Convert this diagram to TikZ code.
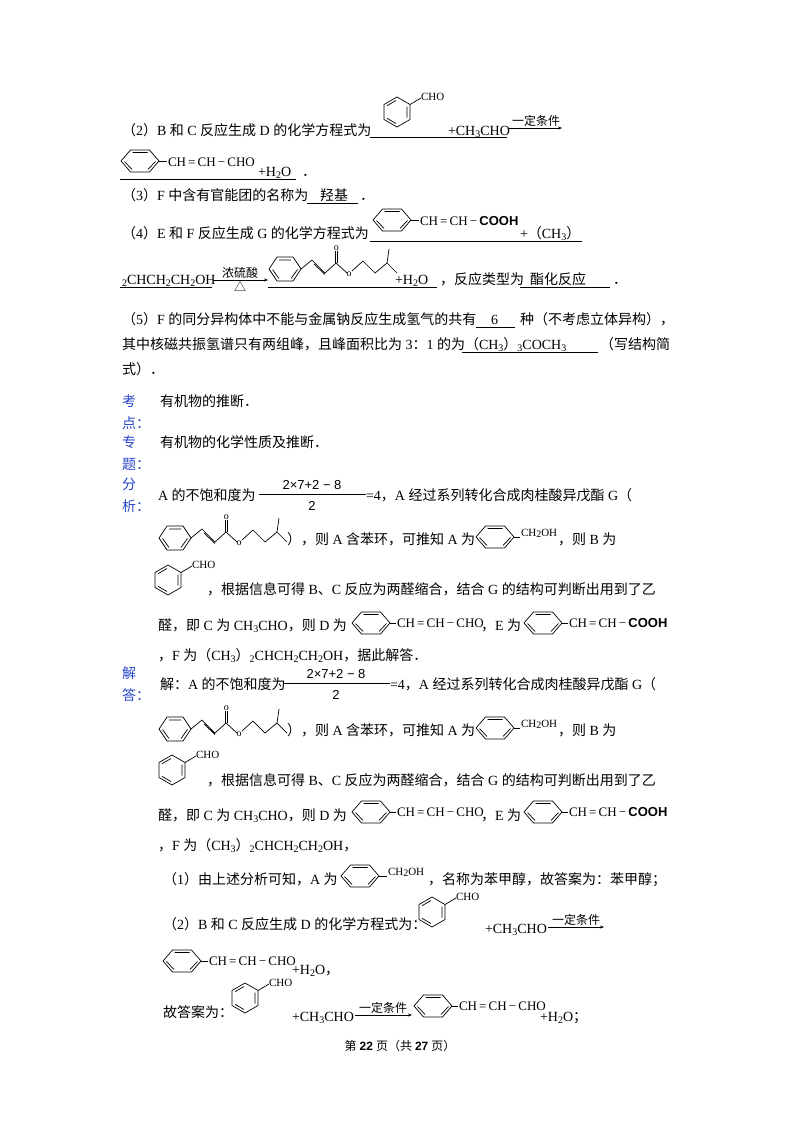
\documentclass[tikz,border=0pt]{standalone}
\usetikzlibrary{arrows.meta}
\usepackage{fontspec}
\setmainfont{Liberation Serif}
\newfontfamily\cjk{Noto Sans CJK SC}
\newfontfamily\sansf{Liberation Sans}
\XeTeXinterchartokenstate=1
\newXeTeXintercharclass\cjkcls
\newcount\cc
\cc="4E00 \loop\ifnum\cc<"A000 \XeTeXcharclass\cc=\cjkcls \advance\cc 1 \repeat
\cc="3000 \loop\ifnum\cc<"3040 \XeTeXcharclass\cc=\cjkcls \advance\cc 1 \repeat
\cc="FF00 \loop\ifnum\cc<"FFF0 \XeTeXcharclass\cc=\cjkcls \advance\cc 1 \repeat
\XeTeXcharclass"25B3=\cjkcls
\XeTeXinterchartoks 0 \cjkcls = {\cjk}
\XeTeXinterchartoks 4095 \cjkcls = {\cjk}
\XeTeXinterchartoks \cjkcls 0 = {\rmfamily}
\XeTeXinterchartoks \cjkcls 4095 = {\rmfamily}
\newcommand\sub[1]{\raisebox{-0.35ex}{\fontsize{10}{10}\selectfont #1}}
\newcommand\chain[1]{CH\,=\,CH\,\textminus\,#1}
\definecolor{kd}{RGB}{40,70,200}
\newcommand\hring[2]{\begin{scope}[shift={(#1,#2)}]
\draw (-19,0)--(-9.5,-11)--(9.5,-11)--(19,0)--(9.5,11)--(-9.5,11)--cycle;
\draw (-7.5,-8.5)--(7.5,-8.5) (-15.5,0.5)--(-8,8.5) (15.5,0.5)--(8,8.5);
\end{scope}}
\newcommand\vring[2]{\begin{scope}[shift={(#1,#2)}]
\draw (0,-15)--(13,-7.5)--(13,7.5)--(0,15)--(-13,7.5)--(-13,-7.5)--cycle;
\draw (10,-5.5)--(10,5.5) (-1,-11.5)--(-10,-6.3) (-1,11.5)--(-10,6.3);
\draw (13,-7.5)--(24,-14);
\node[tx,anchor=west,font=\fontsize{11}{11}\selectfont] at (24,-15) {CHO};
\end{scope}}
\newcommand\ester[2]{\begin{scope}[shift={(#1,#2)}]
\draw (-16,0)--(-8,-12)--(8,-12)--(16,0)--(8,12)--(-8,12)--cycle;
\draw (-6,-9)--(6,-9) (-12.5,0.5)--(-6,9.5) (12.5,0.5)--(6,9.5);
\draw (16,0)--(27,-9)--(40,4) (29,-5)--(40,5.5);
\draw (40,4)--(51,-6)--(62,4);
\draw (50,-6)--(50,-18) (52.5,-6)--(52.5,-18);
\node[tx,font=\fontsize{10}{10}\selectfont] at (51.3,-21) {o};
\node[tx,font=\fontsize{10}{10}\selectfont] at (64,5) {o};
\draw (67,2)--(78,-8)--(90,4)--(102,-6)--(112,4) (102,-6)--(104,-20);
\end{scope}}
\tikzset{tx/.style={inner sep=0,outer sep=0,font=\fontsize{14}{14}\selectfont},
 b/.style={tx,anchor=base west},
 ch/.style={b,font=\fontsize{13}{13}\selectfont},
 ul/.style={line width=0.6pt},
 ar/.style={-{Stealth[length=4pt,width=3pt]},line width=0.6pt}}
\begin{document}
\begin{tikzpicture}[x=1pt,y=-1pt,line width=0.7pt,line join=round]
\useasboundingbox[fill=white] (0,0) rectangle (800,1132);
% line 1
\node[b] (l1) at (122,135) {（2）B 和 C 反应生成 D 的化学方程式为};
\vring{397}{112}
\node[b] (l1b) at (448,135) {+CH\sub{3}CHO};
\draw[ul] (370,137)--(507,137);
\coordinate (a1s) at (509,128); \coordinate (a1e) at (562,128);
\draw[ar] (a1s)--(a1e);
\node[tx,anchor=south,font=\fontsize{12}{12}\selectfont] (c1) at (536,126) {一定条件};
% line 2
\hring{140}{161}
\draw (159,161)--(167,161);
\node[ch] (l2) at (168,166) {\chain{CHO}};
\node[b] (l2b) at (258,176) {+H\sub{2}O};
\draw[ul] (120,179)--(296,179);
\node[b] at (302,176) {．};
% line 3
\node[b] (l3) at (122,200) {（3）F 中含有官能团的名称为};
\node[b] at (320,200) {羟基};
\draw[ul] (307,203)--(358,203); \node[b] at (360,200) {．};
% line 4
\node[b] (l4) at (122,238) {（4）E 和 F 反应生成 G 的化学方程式为};
\hring{392}{220}
\draw (411,220)--(419,220);
\node[ch] at (420,225) {\chain{\textbf{\sansf COOH}}};
\node[b] at (520,238) {+（CH\sub{3}）};
\draw[ul] (370,241)--(582,241);
% line 5
\node[b] (l5) at (122,284) {\sub{2}CHCH\sub{2}CH\sub{2}OH};
\draw[ul] (120,287)--(212,287);
\coordinate (a2s) at (213,280); \coordinate (a2e) at (268,280);
\draw[ar] (a2s)--(a2e);
\node[tx,anchor=south,font=\fontsize{12}{12}\selectfont] at (240,278) {浓硫酸};
\node[tx,anchor=north,font=\fontsize{12}{12}\selectfont] at (240,282) {△};
\ester{285}{269}
\node[b] at (395,284) {+H\sub{2}O};
\draw[ul] (268,287)--(437,287);
\node[b] at (440,284) {，反应类型为};
\node[b] at (530,284) {酯化反应};
\draw[ul] (520,287)--(610,287); \node[b] at (613,284) {．};
% 5
\node[b] (l6) at (122,324) {（5）F 的同分异构体中不能与金属钠反应生成氢气的共有};
\node[b] at (491,324) {6}; \draw[ul] (476,327)--(515,327);
\node[b] at (520,324) {种（不考虑立体异构），};
\node[b] (l7) at (122,349) {其中核磁共振氢谱只有两组峰，且峰面积比为 3：1 的为};
\node[b] at (465,349) {（CH\sub{3}）\sub{3}COCH\sub{3}};
\draw[ul] (462,352)--(598,352);
\node[b] at (600,349) {（写结构简};
\node[b] at (122,374) {式）．};
% labels
\begin{scope}[every node/.append style={text=kd}]
\node[b] at (122,406) {考}; \node[b] at (122,428) {点：};
\node[b] at (122,447) {专}; \node[b] at (122,469) {题：};
\node[b] at (122,489) {分}; \node[b] at (122,511) {析：};
\node[b] at (122,678) {解}; \node[b] at (122,700) {答：};
\end{scope}
\node[b] at (160,406) {有机物的推断．};
\node[b] at (160,447) {有机物的化学性质及推断．};
% analysis
\node[b] at (158,500) {A 的不饱和度为};
\node[tx,font=\fontsize{13}{13}\selectfont\sansf] at (312,485) {2×7+2 \textminus\ 8};
\draw[line width=0.6pt] (259,494)--(366,494);
\node[tx,font=\fontsize{13}{13}\selectfont\sansf] at (312,506) {2};
\node[b] at (366,500) {=4，A 经过系列转化合成肉桂酸异戊酯 G（};
\ester{175}{538}
\node[b] at (287,544) {），则 A 含苯环，可推知 A 为};
\hring{495}{537}
\draw (514,537)--(520,537);
\node[b,font=\fontsize{11}{11}\selectfont] at (521,536) {CH\sub{2}OH};
\node[b] at (558,544) {，则 B 为};
\vring{168}{580}
\node[b] at (207,594) {，根据信息可得 B、C 反应为两醛缩合，结合 G 的结构可判断出用到了乙};
\node[b] at (158,630) {醛，即 C 为 CH\sub{3}CHO，则 D 为};
\hring{371}{623} \draw (390,623)--(396,623);
\node[ch] at (397,627) {\chain{CHO}};
\node[b] at (481,630) {，E 为};
\hring{543}{623} \draw (562,623)--(568,623);
\node[ch] at (569,627) {\chain{\textbf{\sansf COOH}}};
\node[b] at (158,660) {，F 为（CH\sub{3}）\sub{2}CHCH\sub{2}CH\sub{2}OH，据此解答．};
% answer
\node[b] at (160,689) {解：A 的不饱和度为};
\node[tx,font=\fontsize{13}{13}\selectfont\sansf] at (336,674) {2×7+2 \textminus\ 8};
\draw[line width=0.6pt] (283,683)--(390,683);
\node[tx,font=\fontsize{13}{13}\selectfont\sansf] at (336,695) {2};
\node[b] at (390,689) {=4，A 经过系列转化合成肉桂酸异戊酯 G（};
\ester{175}{729}
\node[b] at (287,735) {），则 A 含苯环，可推知 A 为};
\hring{495}{728}
\draw (514,728)--(520,728);
\node[b,font=\fontsize{11}{11}\selectfont] at (521,727) {CH\sub{2}OH};
\node[b] at (558,735) {，则 B 为};
\vring{172}{770}
\node[b] at (207,785) {，根据信息可得 B、C 反应为两醛缩合，结合 G 的结构可判断出用到了乙};
\node[b] at (158,820) {醛，即 C 为 CH\sub{3}CHO，则 D 为};
\hring{371}{812} \draw (390,812)--(396,812);
\node[ch] at (397,816) {\chain{CHO}};
\node[b] at (481,820) {，E 为};
\hring{543}{812} \draw (562,812)--(568,812);
\node[ch] at (569,816) {\chain{\textbf{\sansf COOH}}};
\node[b] at (158,850) {，F 为（CH\sub{3}）\sub{2}CHCH\sub{2}CH\sub{2}OH，};
\node[b] at (163,884) {（1）由上述分析可知，A 为};
\hring{360}{876} \draw (379,876)--(387,876);
\node[b,font=\fontsize{11}{11}\selectfont] at (388,875) {CH\sub{2}OH};
\node[b] at (428,884) {，名称为苯甲醇，故答案为：苯甲醇；};
\node[b] at (163,929) {（2）B 和 C 反应生成 D 的化学方程式为：};
\vring{432}{912}
\node[b] at (485,933) {+CH\sub{3}CHO};
\coordinate (a3s) at (548,927); \coordinate (a3e) at (604,927);
\draw[ar] (a3s)--(a3e);
\node[tx,anchor=south,font=\fontsize{12}{12}\selectfont] at (576,925) {一定条件};
\hring{182}{961} \draw (201,961)--(208,961);
\node[ch] at (209,965) {\chain{CHO}};
\node[b] at (292,974) {+H\sub{2}O，};
\node[b] at (163,1017) {故答案为：};
\vring{245}{998}
\node[b] at (292,1021) {+CH\sub{3}CHO};
\coordinate (a4s) at (355,1015); \coordinate (a4e) at (412,1015);
\draw[ar] (a4s)--(a4e);
\node[tx,anchor=south,font=\fontsize{12}{12}\selectfont] at (383,1013) {一定条件};
\hring{433}{1006} \draw (452,1006)--(458,1006);
\node[ch] at (459,1010) {\chain{CHO}};
\node[b] at (540,1021) {+H\sub{2}O；};
\node[tx,font=\fontsize{12}{12}\selectfont] (ft) at (400,1046) {第 \textbf{\sansf 22} 页（共 \textbf{\sansf 27} 页）};
\end{tikzpicture}
\end{document}
